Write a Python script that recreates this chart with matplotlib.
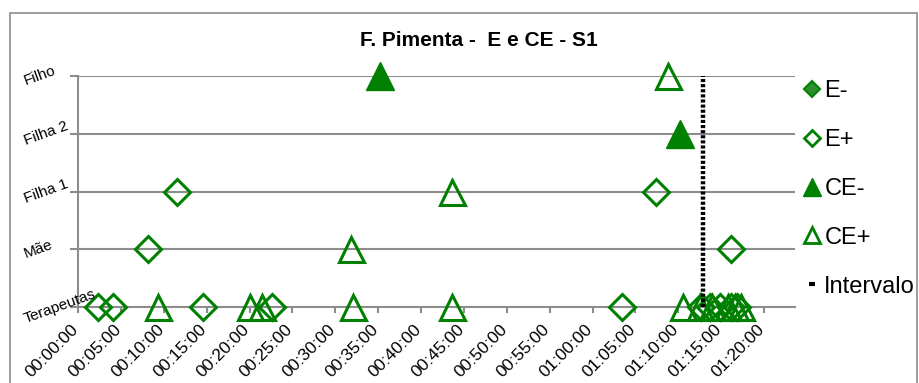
import matplotlib
matplotlib.use("Agg")
import matplotlib.pyplot as plt
import matplotlib.transforms as mtransforms
from matplotlib.lines import Line2D
from matplotlib.patches import Rectangle

plt.rcParams['font.family'] = ['Liberation Sans', 'DejaVu Sans']

# Rows of the chart (bottom to top)
categories = ["Terapeutas", "Mãe", "Filha 1", "Filha 2", "Filho"]

# E- : no occurrences in this session
e_minus_times = []
e_minus_who = []

# E+ occurrences
e_plus_times = ["00:02:20", "00:04:05", "00:14:35", "00:22:35", "01:03:25",
                "01:12:40", "01:13:40", "01:14:50", "01:16:05", "01:16:50",
                "00:08:10", "01:16:10",
                "00:11:30", "01:07:20"]
e_plus_who = ["Terapeutas"] * 10 + ["Mãe"] * 2 + ["Filha 1"] * 2

# CE- occurrences
ce_minus_times = ["00:35:10", "01:10:10"]
ce_minus_who = ["Filho", "Filha 2"]

# CE+ occurrences
ce_plus_times = ["00:09:20", "00:20:05", "00:21:25", "00:32:05", "00:43:35",
                 "01:10:35", "01:12:30", "01:13:55", "01:15:50", "01:16:35",
                 "01:17:20",
                 "00:31:50", "00:43:35", "01:08:50"]
ce_plus_who = ["Terapeutas"] * 11 + ["Mãe", "Filha 1", "Filho"]

# Break between parts of the session
intervalo_time = "01:12:55"

# Axis ticks (every 5 minutes)
tick_minutes = list(range(0, 81, 5))
tick_labels = ["%02d:%02d:00" % (m // 60, m % 60) for m in tick_minutes]

title = "F. Pimenta -  E e CE - S1"


def to_min(s):
    h, m, sec = (int(v) for v in s.split(":"))
    return h * 60 + m + sec / 60.0


def rows(names):
    return [categories.index(n) for n in names]


W, H = 919, 383
fig = plt.figure(figsize=(W / 100, H / 100), dpi=100)

green = "#008000"
grey = "#8c8c8c"

# outer chart border
fig.patches.append(Rectangle((10 / W, -0.2), (917 - 10) / W, 1 - 13 / H + 0.2,
                             transform=fig.transFigure, fill=False,
                             ec=grey, lw=1.2))

ax = fig.add_axes([78.1 / W, 1 - 307 / H, (795 - 78.1) / W, (307 - 76) / H])
ax.set_xlim(0, 83.6)
ax.set_ylim(0, 4)

for side in ("top", "right"):
    ax.spines[side].set_visible(False)
for side in ("left", "bottom"):
    ax.spines[side].set_color(grey)
    ax.spines[side].set_linewidth(1.5)

ax.set_yticks(range(len(categories)))
ax.set_yticklabels([])
ax.tick_params(axis="y", length=6, width=1.5, color=grey, direction="out")
ax.yaxis.grid(True, color=grey, lw=1.5)
ax.set_axisbelow(True)

ax.set_xticks(tick_minutes)
ax.set_xticklabels(tick_labels, rotation=45, ha="right", va="top", fontsize=12.5)
ax.tick_params(axis="x", length=4.5, width=1.5, color=grey, direction="out", pad=6)
shift = mtransforms.ScaledTranslation(3 / 100, 0, fig.dpi_scale_trans)
for lbl in ax.get_xticklabels():
    lbl.set_transform(lbl.get_transform() + shift)

# category labels, rotated, left-aligned at the chart edge
ytrans = mtransforms.blended_transform_factory(fig.transFigure, ax.transData)
for i, name in enumerate(categories):
    fig.text(22 / W, i, name, transform=ytrans, rotation=20,
             ha="left", va="center", fontsize=11)

# series
ax.plot([to_min(t) for t in e_minus_times], rows(e_minus_who), "D", ms=13,
        mfc="#2f8f2f", mec=green, mew=2.2, clip_on=False, zorder=3)
ax.plot([to_min(t) for t in e_plus_times], rows(e_plus_who), "D", ms=13,
        mfc="none", mec=green, mew=2.2, clip_on=False, zorder=3)
ax.plot([to_min(t) for t in ce_minus_times], rows(ce_minus_who), "^", ms=20,
        mfc=green, mec=green, mew=1, clip_on=False, zorder=3)
ax.plot([to_min(t) for t in ce_plus_times], rows(ce_plus_who), "^", ms=18,
        mfc="none", mec=green, mew=2.2, clip_on=False, zorder=3)

ti = to_min(intervalo_time)
ax.plot([ti, ti], [0, 4], color="black", lw=3.2, linestyle=(0, (0.7, 0.45)),
        dash_capstyle="butt", clip_on=False, zorder=5)

fig.text(479 / W, 1 - 41 / H, title, ha="center", va="center",
         fontweight="bold", fontsize=15)

handles = [
    Line2D([], [], ls="none", marker="D", ms=8, mfc="#2f8f2f", mec=green, mew=1.5),
    Line2D([], [], ls="none", marker="D", ms=8, mfc="white", mec=green, mew=2),
    Line2D([], [], ls="none", marker="^", ms=13, mfc=green, mec=green, mew=1),
    Line2D([], [], ls="none", marker="^", ms=12, mfc="white", mec=green, mew=2),
    Line2D([], [], ls="none", marker="_", ms=4.5, mec="black", mew=3),
]
labels = ["E-", "E+", "CE-", "CE+", "Intervalo"]
fig.legend(handles, labels, loc="upper left",
           bbox_to_anchor=(803 / W, 1 - 80 / H), frameon=False, fontsize=17,
           handlelength=0.8, handletextpad=0.1, labelspacing=1.14,
           borderaxespad=0, borderpad=0)

fig.savefig("out.png", dpi=100)
